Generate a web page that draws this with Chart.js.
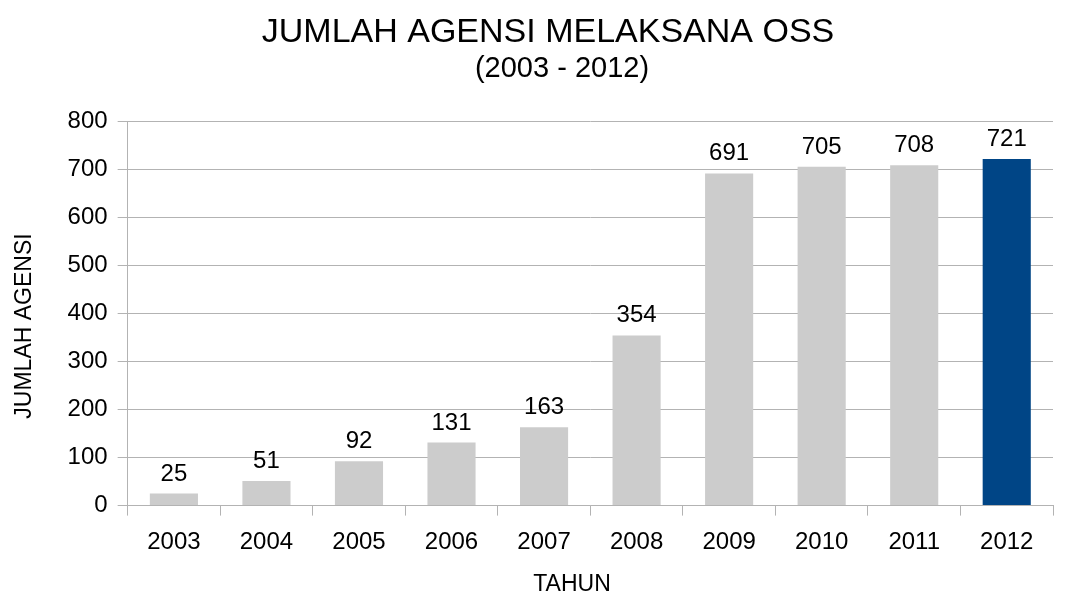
<!DOCTYPE html>
<html>
<head>
<meta charset="utf-8">
<script src="https://cdn.jsdelivr.net/npm/chart.js@4"></script>
<style>
  html, body { margin: 0; padding: 0; background: #ffffff; }
  #wrap { width: 1067px; height: 596px; }
</style>
</head>
<body>
<div id="wrap"><canvas id="chart" width="1067" height="596"></canvas></div>
<script>
const years = ["2003", "2004", "2005", "2006", "2007", "2008", "2009", "2010", "2011", "2012"];
const agencies = [25, 51, 92, 131, 163, 354, 691, 705, 708, 721];
const barColors = ["#cccccc", "#cccccc", "#cccccc", "#cccccc", "#cccccc", "#cccccc", "#cccccc", "#cccccc", "#cccccc", "#004586"];
const mainTitle = "JUMLAH AGENSI MELAKSANA OSS";
const subTitle = "(2003 - 2012)";
const xTitle = "TAHUN";
const yTitle = "JUMLAH AGENSI";

const fontFamily = "'Liberation Sans', Arial, sans-serif";

// titles drawn by hand: in the original they are not centred on the plot
const headings = {
  id: "headings",
  afterDraw(chart) {
    const ctx = chart.ctx;
    ctx.save();
    ctx.fillStyle = "#000000";
    ctx.textAlign = "center";
    ctx.textBaseline = "alphabetic";
    ctx.font = "34px " + fontFamily;
    ctx.fillText(mainTitle, 548, 42);
    ctx.font = "29px " + fontFamily;
    ctx.fillText(subTitle, 562, 77);

    ctx.font = "23px " + fontFamily;
    ctx.textBaseline = "middle";
    ctx.fillText(xTitle, 572, 585);
    ctx.translate(25, 326);
    ctx.rotate(-Math.PI / 2);
    ctx.fillText(yTitle, 0, 0);
    ctx.restore();
  }
};

// value labels above each bar
const barLabels = {
  id: "barLabels",
  afterDatasetsDraw(chart) {
    const ctx = chart.ctx;
    const meta = chart.getDatasetMeta(0);
    ctx.save();
    ctx.font = "24px " + fontFamily;
    ctx.fillStyle = "#000000";
    ctx.textAlign = "center";
    ctx.textBaseline = "alphabetic";
    meta.data.forEach(function(bar, i) {
      ctx.fillText(String(agencies[i]), bar.x, bar.y - 13);
    });
    ctx.restore();
  }
};

new Chart(document.getElementById("chart").getContext("2d"), {
  type: "bar",
  data: {
    labels: years,
    datasets: [{
      data: agencies,
      backgroundColor: barColors,
      borderWidth: 0,
      categoryPercentage: 1,
      barPercentage: 0.52
    }]
  },
  options: {
    responsive: false,
    animation: false,
    layout: { padding: { left: 57.6, right: 14, top: 121, bottom: 27.6 } },
    plugins: {
      legend: { display: false },
      tooltip: { enabled: false },
      title: { display: false }
    },
    scales: {
      x: {
        grid: {
          offset: true,
          drawOnChartArea: false,
          drawTicks: true,
          tickLength: 10,
          color: "#b3b3b3"
        },
        border: { display: true, color: "#b3b3b3" },
        ticks: { color: "#000000", font: { family: fontFamily, size: 24 }, padding: 12 }
      },
      y: {
        min: 0,
        max: 800,
        ticks: { stepSize: 100, color: "#000000", font: { family: fontFamily, size: 24 }, padding: 10 },
        grid: { color: "#b3b3b3", tickLength: 10 },
        border: { display: true, color: "#b3b3b3" }
      }
    }
  },
  plugins: [barLabels, headings]
});
</script>
</body>
</html>
